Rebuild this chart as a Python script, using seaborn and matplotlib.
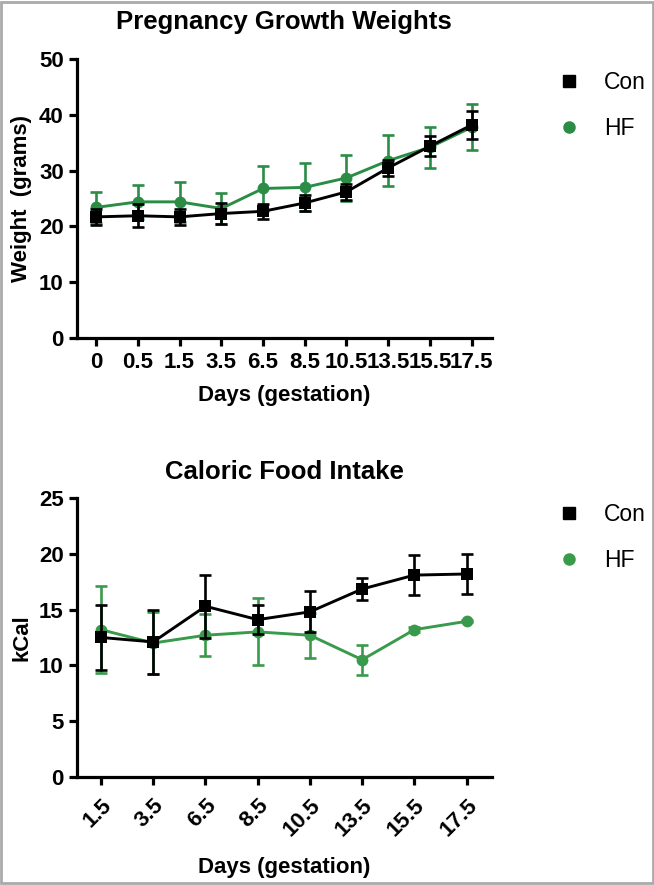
import numpy as np
import pandas as pd
import matplotlib
matplotlib.use("Agg")
import matplotlib.pyplot as plt
from matplotlib.lines import Line2D
from matplotlib.patches import Rectangle
import seaborn as sns

# pregnancy weights (grams), mean and SD
weight_days = ["0", "0.5", "1.5", "3.5", "6.5", "8.5", "10.5", "13.5", "15.5", "17.5"]
weight_con = [21.7, 21.9, 21.7, 22.3, 22.7, 24.2, 26.2, 30.5, 34.4, 38.2]
weight_con_sd = [1.4, 2.1, 1.5, 1.9, 1.4, 1.4, 1.4, 1.5, 1.8, 2.5]
weight_hf = [23.4, 24.4, 24.4, 23.2, 26.8, 27.0, 28.7, 31.8, 34.2, 37.8]
weight_hf_sd = [2.8, 3.0, 3.6, 2.7, 4.1, 4.3, 4.2, 4.6, 3.7, 4.1]

# caloric intake (kCal), mean and SD
food_days = ["1.5", "3.5", "6.5", "8.5", "10.5", "13.5", "15.5", "17.5"]
food_con = [12.5, 12.1, 15.3, 14.1, 14.8, 16.85, 18.1, 18.2]
food_con_sd = [2.95, 2.85, 2.85, 1.3, 1.85, 0.95, 1.8, 1.8]
food_hf = [13.2, 12.0, 12.7, 13.0, 12.7, 10.5, 13.2, 13.95]
food_hf_sd = [3.9, 2.75, 1.9, 3.0, 2.0, 1.35, 0.25, 0.1]

GREEN = "#2b8c46"
GREEN2 = "#3a9a4b"
BLACK = "#000000"

sns.set_theme(style="ticks")
plt.rcParams['font.family'] = ['Liberation Sans', 'DejaVu Sans']
plt.rcParams['text.color'] = 'black'
plt.rcParams['axes.labelcolor'] = 'black'


def draw_panel(ax, days, con, con_sd, hf, hf_sd, green):
    pos = np.arange(len(days))
    groups = [("HF", hf, hf_sd, green, "o"), ("Con", con, con_sd, BLACK, "s")]
    for name, vals, sd, col, mk in groups:
        ax.errorbar(pos, vals, yerr=sd, fmt="none", ecolor=col,
                    elinewidth=1.9, capsize=4.5, capthick=1.9)
        df = pd.DataFrame({"pos": pos, "val": vals})
        sns.lineplot(data=df, x="pos", y="val", ax=ax, color=col,
                     marker=mk, markersize=8.5, markeredgewidth=0,
                     linewidth=2.1, legend=False)
    ax.set_xticks(pos)
    ax.set_xlim(-0.46, len(days) - 0.52)
    for sp in ["top", "right"]:
        ax.spines[sp].set_visible(False)
    for sp in ["left", "bottom"]:
        ax.spines[sp].set_linewidth(2.3)
        ax.spines[sp].set_color("black")
    ax.tick_params(width=2.3, length=6, labelsize=16, colors="black")


fig = plt.figure(figsize=(6.54, 8.85), dpi=100)
ax1 = fig.add_axes([0.1177, 0.6184, 0.6341, 0.3146])
ax2 = fig.add_axes([0.1177, 0.1224, 0.6341, 0.3146])

draw_panel(ax1, weight_days, weight_con, weight_con_sd, weight_hf, weight_hf_sd, GREEN)
ax1.set_ylim(0, 50)
ax1.set_yticks([0, 10, 20, 30, 40, 50])
ax1.set_yticklabels(["0", "10", "20", "30", "40", "50"], fontweight="bold")
ax1.set_xticklabels(weight_days, fontweight="bold")
ax1.tick_params(axis="x", pad=4)
ax1.set_xlabel("Days (gestation)", fontsize=16, fontweight="bold", labelpad=9)
ax1.set_ylabel("Weight  (grams)", fontsize=16, fontweight="bold", labelpad=5)
ax1.set_title("Pregnancy Growth Weights", fontsize=18.5, fontweight="bold", pad=22)

draw_panel(ax2, food_days, food_con, food_con_sd, food_hf, food_hf_sd, GREEN2)
ax2.set_ylim(0, 25)
ax2.set_yticks([0, 5, 10, 15, 20, 25])
ax2.set_yticklabels(["0", "5", "10", "15", "20", "25"], fontweight="bold")
ax2.set_xticklabels(food_days, fontweight="bold", rotation=45,
                    ha="right", rotation_mode="anchor")
ax2.tick_params(axis="x", pad=7)
ax2.set_xlabel("Days (gestation)", fontsize=16, fontweight="bold", labelpad=12)
ax2.set_ylabel("kCal", fontsize=16, fontweight="bold", labelpad=5)
ax2.set_title("Caloric Food Intake", fontsize=18.5, fontweight="bold", pad=14)


def add_legend(green, y):
    handles = [Line2D([], [], color=BLACK, marker="s", linestyle="none", markersize=8),
               Line2D([], [], color=green, marker="o", linestyle="none", markersize=8)]
    fig.legend(handles, ["Con", "HF"], loc="upper left", bbox_to_anchor=(0.825, y),
               frameon=False, fontsize=16.5, handletextpad=1.1, labelspacing=1.0,
               handlelength=0.8)


add_legend(GREEN, 0.943)
add_legend(GREEN2, 0.455)

fig.patches.append(Rectangle((0.002, 0.002), 0.996, 0.996, transform=fig.transFigure,
                             fill=False, edgecolor="#aaaaaa", linewidth=2))

fig.savefig("out.png", dpi=100)
